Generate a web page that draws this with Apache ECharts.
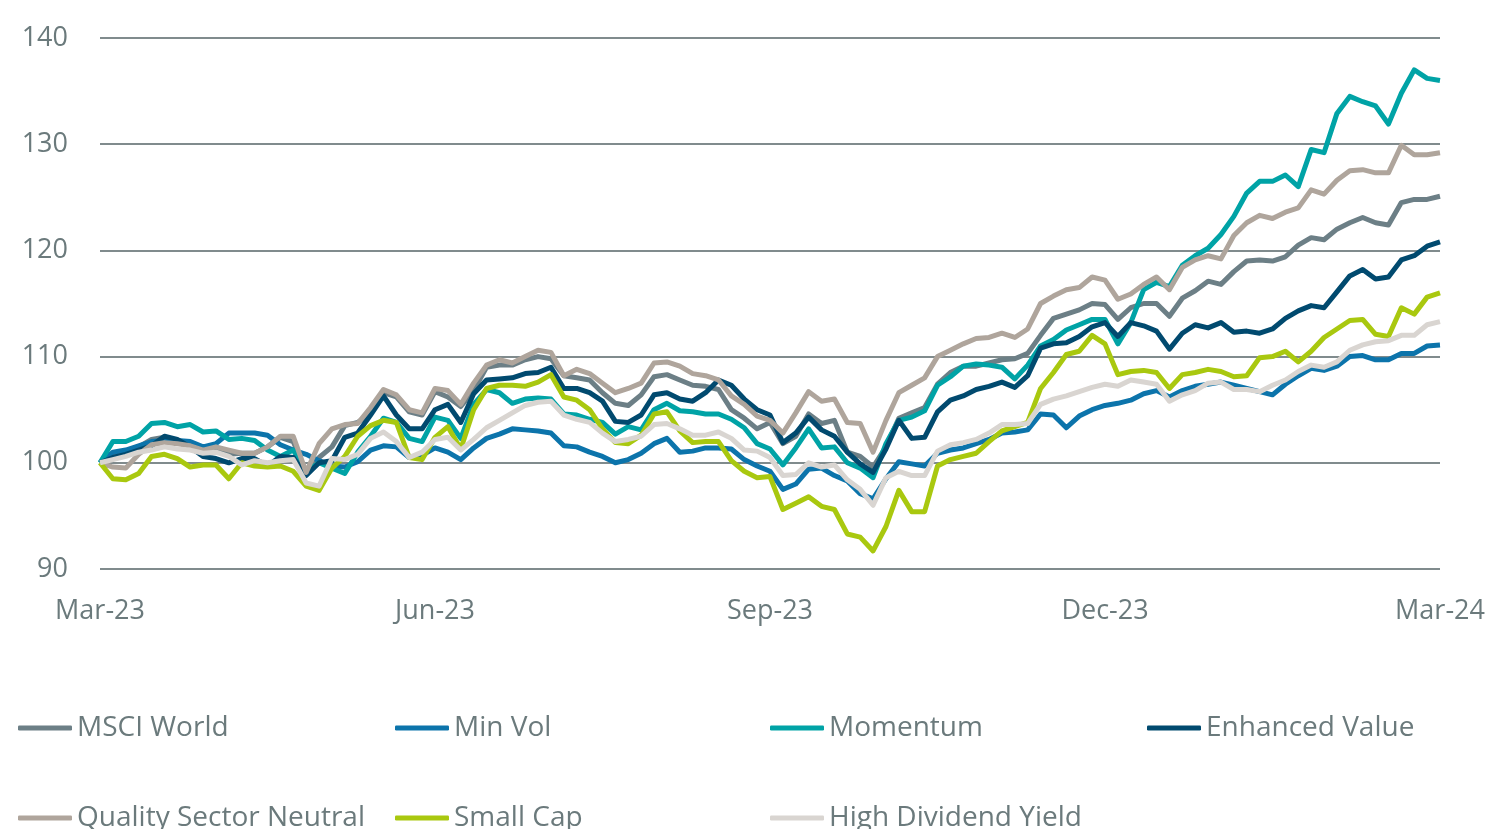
<html>
<head>
    <meta charset='utf-8'/>
    <title>Factor indices</title>
    <style>
        body { margin: 0; padding: 0; background: #fff; }
        #chart { width: 1493px; height: 829px; }
    </style>
</head>
<body>
<div id='chart'></div>
<script src="https://cdn.jsdelivr.net/npm/echarts@6/dist/echarts.min.js"></script>
<script type="text/javascript">
    // twice-weekly points, Mar-23 .. Mar-24 (26 per quarter)
    var points = [];
    for (var i = 0; i < 105; i++) points.push(i);
    var tickLabels = {0: 'Mar-23', 26: 'Jun-23', 52: 'Sep-23', 78: 'Dec-23', 104: 'Mar-24'};

    var msciWorld = [100, 100.6, 100.8, 101.5, 102.2, 102.4, 101.9, 101.9, 101, 101.1,
        100.8, 100.9, 100.9, 101.5, 102.4, 102, 99, 100.5, 101.5, 103.5,
        103.8, 104.7, 106.6, 106.2, 104.8, 104.5, 106.7,
        106.2, 105.3, 106.8, 109, 109.2, 109.2, 109.7, 110, 109.8, 108.2,
        108, 107.8, 106.6, 105.6, 105.4, 106.4, 108.1, 108.3, 107.8, 107.3,
        107.2, 106.9, 105, 104.2, 103.2, 103.8,
        101.8, 102.5, 104.6, 103.7, 104, 101, 100.6, 99.6, 101.5, 104.2,
        104.7, 105.2, 107.4, 108.5, 109.1, 109.1, 109.4, 109.7, 109.8, 110.3,
        112, 113.6, 114, 114.4, 115, 114.9,
        113.5, 114.6, 115, 115, 113.8, 115.5, 116.2, 117.1, 116.8, 118,
        119, 119.1, 119, 119.4, 120.5, 121.2, 121, 122, 122.6, 123.1,
        122.6, 122.4, 124.5, 124.8, 124.8, 125.1];
    var minVol = [100, 101, 101.2, 101.6, 102, 102.1, 102.1, 102, 101.5, 101.8,
        102.8, 102.8, 102.8, 102.6, 101.7, 101.2, 100.8, 100.2, 99.7, 99.6,
        100.1, 101.2, 101.6, 101.5, 100.5, 100.7, 101.4,
        101, 100.3, 101.4, 102.3, 102.7, 103.2, 103.1, 103, 102.8, 101.6,
        101.5, 101, 100.6, 100, 100.3, 100.9, 101.8, 102.3, 101, 101.1,
        101.4, 101.4, 101.3, 100.3, 99.7, 99.2,
        97.5, 98, 99.4, 99.5, 98.8, 98.3, 97.1, 96.6, 98.5, 100.1,
        99.9, 99.7, 100.9, 101.2, 101.4, 101.8, 102.2, 102.8, 102.9, 103.1,
        104.6, 104.5, 103.3, 104.4, 105, 105.4,
        105.6, 105.9, 106.5, 106.8, 106.2, 106.8, 107.2, 107.4, 107.6, 107.3,
        107, 106.7, 106.4, 107.4, 108.2, 108.9, 108.7, 109.1, 110, 110.1,
        109.7, 109.7, 110.3, 110.3, 111, 111.1];
    var momentum = [100, 102, 102, 102.5, 103.7, 103.8, 103.4, 103.6, 102.9, 103,
        102.2, 102.3, 102.1, 101.2, 100.6, 101.2, 99.2, 100, 99.5, 99,
        101, 102.5, 104.2, 103.8, 102.3, 102, 104.3,
        104, 102.3, 105.5, 106.9, 106.6, 105.6, 106, 106.1, 106, 104.6,
        104.5, 104.1, 103.8, 102.7, 103.4, 103.1, 105, 105.6, 104.9, 104.8,
        104.6, 104.6, 104.1, 103.3, 101.8, 101.3,
        99.8, 101.4, 103.2, 101.4, 101.5, 100, 99.5, 98.6, 101.8, 104,
        104.3, 104.9, 107.3, 108.1, 109.1, 109.3, 109.2, 109, 107.9, 109.2,
        111, 111.6, 112.5, 113, 113.5, 113.5,
        111.2, 113.2, 116.3, 117, 116.6, 118.6, 119.5, 120.2, 121.5, 123.2,
        125.4, 126.5, 126.5, 127.1, 126, 129.5, 129.2, 132.9, 134.5, 134,
        133.6, 131.9, 134.8, 137, 136.2, 136];
    var enhancedValue = [100, 100.5, 100.8, 101.2, 101.6, 102.5, 102.2, 101.5, 100.6, 100.4,
        100, 100.4, 100.4, 99.7, 100.6, 100.5, 98.8, 100, 100.2, 102.4,
        102.8, 104.5, 106.3, 104.5, 103.2, 103.2, 105,
        105.5, 103.8, 106.5, 107.8, 107.9, 108, 108.4, 108.5, 109, 107,
        107, 106.6, 105.8, 103.9, 103.8, 104.5, 106.4, 106.6, 106, 105.8,
        106.6, 107.8, 107.3, 106, 105, 104.5,
        101.9, 102.8, 104.3, 103.1, 102.5, 101, 99.9, 99.1, 101.3, 104,
        102.3, 102.4, 104.8, 105.9, 106.3, 106.9, 107.2, 107.6, 107.1, 108.2,
        110.8, 111.2, 111.3, 111.9, 112.8, 113.2,
        111.9, 113.2, 112.9, 112.4, 110.7, 112.2, 113, 112.7, 113.2, 112.3,
        112.4, 112.2, 112.6, 113.6, 114.3, 114.8, 114.6, 116.1, 117.6, 118.2,
        117.3, 117.5, 119.1, 119.5, 120.4, 120.8];
    var qualitySN = [100, 99.6, 99.5, 100.8, 101.7, 101.9, 101.8, 101.6, 101.2, 101.5,
        101.2, 100.9, 100.9, 101.5, 102.5, 102.5, 99.1, 101.8, 103.2, 103.6,
        103.7, 105.2, 106.9, 106.4, 105, 104.7, 107,
        106.8, 105.5, 107.5, 109.2, 109.7, 109.4, 110, 110.6, 110.4, 108.2,
        108.8, 108.4, 107.5, 106.6, 107, 107.5, 109.4, 109.5, 109.1, 108.4,
        108.2, 107.8, 106.3, 105.5, 104.4, 104,
        102.8, 104.7, 106.7, 105.8, 106, 103.8, 103.7, 101, 104, 106.6,
        107.3, 108, 110, 110.6, 111.2, 111.7, 111.8, 112.2, 111.8, 112.6,
        115, 115.7, 116.3, 116.5, 117.5, 117.2,
        115.4, 115.9, 116.8, 117.5, 116.3, 118.4, 119.1, 119.5, 119.2, 121.4,
        122.6, 123.3, 123, 123.6, 124, 125.7, 125.3, 126.6, 127.5, 127.6,
        127.3, 127.3, 129.9, 129, 129, 129.2];
    var smallCap = [100, 98.5, 98.4, 99, 100.6, 100.8, 100.4, 99.6, 99.8, 99.8,
        98.5, 100, 99.7, 99.6, 99.7, 99.2, 97.8, 97.4, 99.5, 100.6,
        102.5, 103.5, 104, 103.8, 100.5, 100.3, 102.4,
        103.4, 101.3, 105, 107, 107.3, 107.3, 107.2, 107.6, 108.3, 106.2,
        105.9, 105, 103.2, 101.9, 101.8, 102.6, 104.6, 104.8, 103, 101.9,
        102, 102, 100.2, 99.2, 98.6, 98.7,
        95.6, 96.2, 96.8, 95.9, 95.6, 93.3, 93, 91.7, 94, 97.4,
        95.4, 95.4, 99.7, 100.3, 100.6, 100.9, 102, 103, 103.4, 103.8,
        107, 108.5, 110.2, 110.5, 112, 111.2,
        108.3, 108.6, 108.7, 108.5, 107, 108.3, 108.5, 108.8, 108.6, 108.1,
        108.2, 109.9, 110, 110.5, 109.5, 110.5, 111.8, 112.6, 113.4, 113.5,
        112.1, 111.9, 114.6, 114, 115.6, 116];
    var highDiv = [100, 100.3, 100.6, 101, 101.2, 101.5, 101.3, 101.2, 100.9, 101,
        100.6, 99.8, 100.2, 100, 100.2, 100.3, 98.1, 97.8, 100.4, 100.3,
        100.8, 102.3, 102.9, 102, 100.5, 101, 102.2,
        102.4, 101.2, 102.2, 103.3, 104, 104.7, 105.4, 105.7, 105.8, 104.5,
        104.1, 103.8, 102.8, 102, 102.2, 102.5, 103.6, 103.7, 103.2, 102.6,
        102.6, 102.9, 102.3, 101.2, 101.1, 100.5,
        98.8, 98.9, 100, 99.6, 99.8, 98.4, 97.5, 96, 98.6, 99.2,
        98.8, 98.8, 101.1, 101.7, 101.9, 102.2, 102.8, 103.6, 103.6, 103.7,
        105.5, 106, 106.3, 106.7, 107.1, 107.4,
        107.2, 107.8, 107.6, 107.4, 105.8, 106.4, 106.8, 107.5, 107.6, 106.9,
        106.9, 106.7, 107.3, 107.8, 108.6, 109.2, 109, 109.5, 110.6, 111.1,
        111.4, 111.5, 112, 112, 113, 113.3];

    var names = ['MSCI World', 'Min Vol', 'Momentum', 'Enhanced Value',
        'Quality Sector Neutral', 'Small Cap', 'High Dividend Yield'];
    var values = [msciWorld, minVol, momentum, enhancedValue, qualitySN, smallCap, highDiv];
    var colors = ['#6c7f86', '#0c74ab', '#00a3a6', '#014a6f', '#afa59c', '#a9c80f', '#d9d5d1'];

    var textColor = '#6b7a7c';
    var font = 'Open Sans';

    // legend: 4 columns, 2 rows
    var legendPos = [[18, 714], [395, 714], [770, 714], [1147, 714],
        [18, 804], [395, 804], [770, 804]];
    var legends = names.map(function (n, k) {
        return {
            data: [n],
            left: legendPos[k][0],
            top: legendPos[k][1],
            padding: 0,
            icon: 'roundRect',
            itemWidth: 54,
            itemHeight: 5,
            textStyle: {color: textColor, fontFamily: font, fontSize: 28}
        };
    });

    var series = names.map(function (n, k) {
        return {
            name: n,
            type: 'line',
            data: values[k],
            showSymbol: false,
            symbol: 'none',
            lineStyle: {width: 5, color: colors[k], join: 'round'},
            itemStyle: {color: colors[k]}
        };
    });

    var chart = echarts.init(document.getElementById('chart'));
    chart.setOption({
        animation: false,
        color: colors,
        grid: {left: 100, right: 53, top: 38, bottom: 260},
        legend: legends,
        xAxis: {
            type: 'category',
            boundaryGap: false,
            data: points,
            axisLine: {show: false},
            axisTick: {show: false},
            axisLabel: {
                interval: 0,
                margin: 29,
                color: textColor,
                fontFamily: font,
                fontSize: 27,
                formatter: function (v, idx) { return tickLabels[idx] || ''; }
            }
        },
        yAxis: {
            type: 'value',
            min: 90,
            max: 140,
            interval: 10,
            axisLine: {show: false},
            axisTick: {show: false},
            axisLabel: {margin: 32, color: textColor, fontFamily: font, fontSize: 27},
            splitLine: {lineStyle: {color: '#808b8d', width: 2}}
        },
        series: series
    });
</script>
</body>
</html>
